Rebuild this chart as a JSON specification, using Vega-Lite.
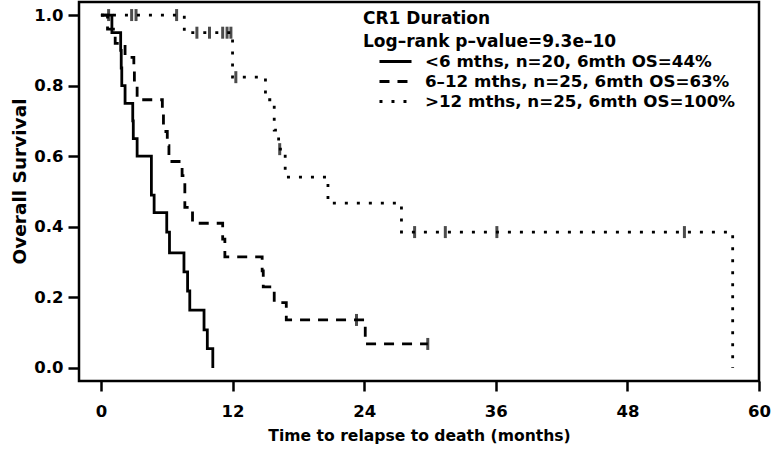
{
  "$schema": "https://vega.github.io/schema/vega-lite/v6.json",
  "width": 680,
  "height": 379,
  "autosize": {"type": "none"},
  "padding": {"left": 79, "top": 2, "right": 14, "bottom": 68},
  "background": "white",
  "config": {
    "view": {"stroke": "black", "strokeWidth": 2.5},
    "font": "DejaVu Sans"
  },
  "datasets": {
    "curves": [
      {"group": "<6 mths, n=20, 6mth OS=44%", "t": 0, "s": 1.0},
      {"group": "<6 mths, n=20, 6mth OS=44%", "t": 1.0, "s": 0.95},
      {"group": "<6 mths, n=20, 6mth OS=44%", "t": 1.8, "s": 0.9},
      {"group": "<6 mths, n=20, 6mth OS=44%", "t": 1.85, "s": 0.85},
      {"group": "<6 mths, n=20, 6mth OS=44%", "t": 1.9, "s": 0.8},
      {"group": "<6 mths, n=20, 6mth OS=44%", "t": 2.2, "s": 0.75},
      {"group": "<6 mths, n=20, 6mth OS=44%", "t": 2.9, "s": 0.7},
      {"group": "<6 mths, n=20, 6mth OS=44%", "t": 2.95, "s": 0.65},
      {"group": "<6 mths, n=20, 6mth OS=44%", "t": 3.3, "s": 0.6},
      {"group": "<6 mths, n=20, 6mth OS=44%", "t": 4.6, "s": 0.49},
      {"group": "<6 mths, n=20, 6mth OS=44%", "t": 4.85, "s": 0.44},
      {"group": "<6 mths, n=20, 6mth OS=44%", "t": 6.0, "s": 0.385},
      {"group": "<6 mths, n=20, 6mth OS=44%", "t": 6.25, "s": 0.326},
      {"group": "<6 mths, n=20, 6mth OS=44%", "t": 7.57, "s": 0.272},
      {"group": "<6 mths, n=20, 6mth OS=44%", "t": 7.9, "s": 0.218},
      {"group": "<6 mths, n=20, 6mth OS=44%", "t": 8.1, "s": 0.164},
      {"group": "<6 mths, n=20, 6mth OS=44%", "t": 9.4, "s": 0.108},
      {"group": "<6 mths, n=20, 6mth OS=44%", "t": 9.7, "s": 0.055},
      {"group": "<6 mths, n=20, 6mth OS=44%", "t": 10.2, "s": 0.0},
      {"group": "6–12 mths, n=25, 6mth OS=63%", "t": 0, "s": 1.0},
      {"group": "6–12 mths, n=25, 6mth OS=63%", "t": 0.6, "s": 0.96},
      {"group": "6–12 mths, n=25, 6mth OS=63%", "t": 1.3, "s": 0.92},
      {"group": "6–12 mths, n=25, 6mth OS=63%", "t": 2.2, "s": 0.88},
      {"group": "6–12 mths, n=25, 6mth OS=63%", "t": 3.0, "s": 0.84},
      {"group": "6–12 mths, n=25, 6mth OS=63%", "t": 3.05, "s": 0.8},
      {"group": "6–12 mths, n=25, 6mth OS=63%", "t": 3.3, "s": 0.76},
      {"group": "6–12 mths, n=25, 6mth OS=63%", "t": 5.6, "s": 0.72},
      {"group": "6–12 mths, n=25, 6mth OS=63%", "t": 5.7, "s": 0.67},
      {"group": "6–12 mths, n=25, 6mth OS=63%", "t": 6.05, "s": 0.63},
      {"group": "6–12 mths, n=25, 6mth OS=63%", "t": 6.2, "s": 0.585},
      {"group": "6–12 mths, n=25, 6mth OS=63%", "t": 7.4, "s": 0.545},
      {"group": "6–12 mths, n=25, 6mth OS=63%", "t": 7.65, "s": 0.455},
      {"group": "6–12 mths, n=25, 6mth OS=63%", "t": 8.35, "s": 0.41},
      {"group": "6–12 mths, n=25, 6mth OS=63%", "t": 11.1, "s": 0.365},
      {"group": "6–12 mths, n=25, 6mth OS=63%", "t": 11.3, "s": 0.315},
      {"group": "6–12 mths, n=25, 6mth OS=63%", "t": 14.7, "s": 0.275},
      {"group": "6–12 mths, n=25, 6mth OS=63%", "t": 14.8, "s": 0.23},
      {"group": "6–12 mths, n=25, 6mth OS=63%", "t": 15.8, "s": 0.185},
      {"group": "6–12 mths, n=25, 6mth OS=63%", "t": 16.9, "s": 0.136},
      {"group": "6–12 mths, n=25, 6mth OS=63%", "t": 24.1, "s": 0.068},
      {"group": "6–12 mths, n=25, 6mth OS=63%", "t": 29.8, "s": 0.068},
      {"group": ">12 mths, n=25, 6mth OS=100%", "t": 0, "s": 1.0},
      {"group": ">12 mths, n=25, 6mth OS=100%", "t": 7.6, "s": 0.95},
      {"group": ">12 mths, n=25, 6mth OS=100%", "t": 12.0, "s": 0.824},
      {"group": ">12 mths, n=25, 6mth OS=100%", "t": 15.0, "s": 0.76},
      {"group": ">12 mths, n=25, 6mth OS=100%", "t": 15.8, "s": 0.674},
      {"group": ">12 mths, n=25, 6mth OS=100%", "t": 16.2, "s": 0.62},
      {"group": ">12 mths, n=25, 6mth OS=100%", "t": 16.8, "s": 0.541},
      {"group": ">12 mths, n=25, 6mth OS=100%", "t": 20.7, "s": 0.467},
      {"group": ">12 mths, n=25, 6mth OS=100%", "t": 27.4, "s": 0.385},
      {"group": ">12 mths, n=25, 6mth OS=100%", "t": 57.6, "s": 0.0}
    ],
    "censors": [
      {"group": "<6 mths, n=20, 6mth OS=44%", "t": 0.7, "s": 1.0},
      {"group": "6–12 mths, n=25, 6mth OS=63%", "t": 23.3, "s": 0.136},
      {"group": "6–12 mths, n=25, 6mth OS=63%", "t": 29.8, "s": 0.068},
      {"group": ">12 mths, n=25, 6mth OS=100%", "t": 2.8, "s": 1.0},
      {"group": ">12 mths, n=25, 6mth OS=100%", "t": 3.2, "s": 1.0},
      {"group": ">12 mths, n=25, 6mth OS=100%", "t": 6.9, "s": 1.0},
      {"group": ">12 mths, n=25, 6mth OS=100%", "t": 8.75, "s": 0.95},
      {"group": ">12 mths, n=25, 6mth OS=100%", "t": 9.9, "s": 0.95},
      {"group": ">12 mths, n=25, 6mth OS=100%", "t": 11.1, "s": 0.95},
      {"group": ">12 mths, n=25, 6mth OS=100%", "t": 11.5, "s": 0.95},
      {"group": ">12 mths, n=25, 6mth OS=100%", "t": 11.85, "s": 0.95},
      {"group": ">12 mths, n=25, 6mth OS=100%", "t": 12.3, "s": 0.824},
      {"group": ">12 mths, n=25, 6mth OS=100%", "t": 16.3, "s": 0.62},
      {"group": ">12 mths, n=25, 6mth OS=100%", "t": 28.6, "s": 0.385},
      {"group": ">12 mths, n=25, 6mth OS=100%", "t": 31.4, "s": 0.385},
      {"group": ">12 mths, n=25, 6mth OS=100%", "t": 36.1, "s": 0.385},
      {"group": ">12 mths, n=25, 6mth OS=100%", "t": 53.2, "s": 0.385}
    ]
  },
  "layer": [
    {
      "data": {"name": "curves"},
      "mark": {"type": "line", "interpolate": "step-after", "color": "black", "strokeWidth": 2.8, "strokeCap": "butt"},
      "encoding": {
        "x": {
          "field": "t", "type": "quantitative",
          "scale": {"domain": [-2, 60], "nice": false, "zero": false},
          "axis": {
            "values": [0, 12, 24, 36, 48, 60],
            "title": "Time to relapse to death (months)",
            "domain": false, "grid": false,
            "tickColor": "black", "tickWidth": 2.5, "tickSize": 10,
            "labelFont": "DejaVu Sans", "labelFontSize": 16.5, "labelFontWeight": "bold", "labelColor": "black",
            "labelPadding": 12, "labelFlush": false,
            "titleFont": "DejaVu Sans", "titleFontSize": 15.6, "titleFontWeight": "bold", "titleColor": "black",
            "titlePadding": 9
          }
        },
        "y": {
          "field": "s", "type": "quantitative",
          "scale": {"domain": [-0.037, 1.037], "nice": false, "zero": false},
          "axis": {
            "values": [0, 0.2, 0.4, 0.6, 0.8, 1.0],
            "format": ".1f",
            "title": "Overall Survival",
            "domain": false, "grid": false,
            "tickColor": "black", "tickWidth": 2.5, "tickSize": 11,
            "labelFont": "DejaVu Sans", "labelFontSize": 16.5, "labelFontWeight": "bold", "labelColor": "black",
            "labelPadding": 5, "labelFlush": false,
            "titleFont": "DejaVu Sans", "titleFontSize": 18.5, "titleFontWeight": "bold", "titleColor": "black",
            "titlePadding": 4, "titleY": 179
          }
        },
        "strokeDash": {
          "field": "group", "type": "nominal",
          "scale": {
            "domain": ["<6 mths, n=20, 6mth OS=44%", "6–12 mths, n=25, 6mth OS=63%", ">12 mths, n=25, 6mth OS=100%"],
            "range": [[1, 0], [10, 8], [3, 9]]
          },
          "legend": {
            "title": ["CR1 Duration", "Log–rank p–value=9.3e–10"],
            "orient": "none", "legendX": 284, "legendY": 9,
            "titleFont": "DejaVu Sans", "titleFontSize": 17, "titleFontWeight": "bold", "titleColor": "black",
            "titleLineHeight": 23, "titlePadding": 0, "titleLimit": 500,
            "labelFont": "DejaVu Sans", "labelFontSize": 16.7, "labelFontWeight": "bold", "labelColor": "black",
            "labelOffset": 19, "labelLimit": 500,
            "symbolType": "M-1.78,0H1.78", "symbolSize": 324, "symbolStrokeWidth": 2.8, "symbolStrokeColor": "black",
            "symbolFillColor": "transparent",
            "symbolOffset": 22,
            "rowPadding": -1
          }
        }
      }
    },
    {
      "data": {"name": "censors"},
      "mark": {"type": "tick", "orient": "vertical", "color": "black", "thickness": 3, "size": 12},
      "encoding": {
        "x": {"field": "t", "type": "quantitative"},
        "y": {"field": "s", "type": "quantitative"}
      }
    }
  ]
}
